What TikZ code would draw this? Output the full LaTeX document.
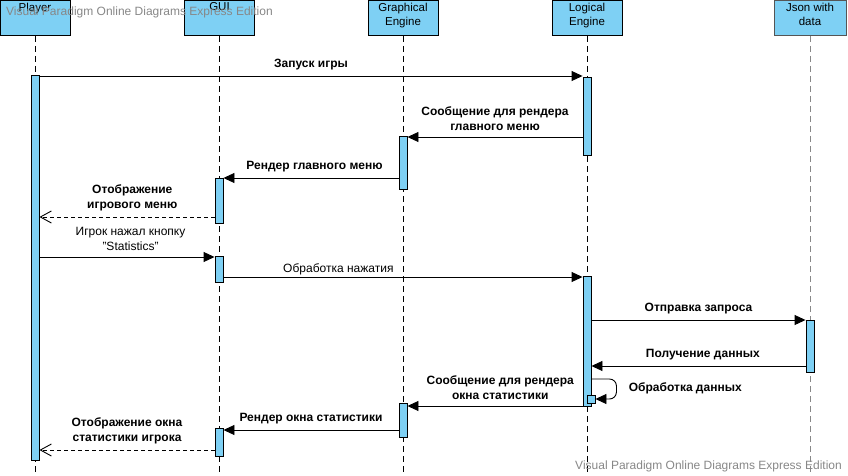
\documentclass[tikz,border=0pt]{standalone}
\usepackage{fontspec}
\setmainfont{Liberation Sans}
\usetikzlibrary{arrows.meta, positioning, calc}
\definecolor{lifeblue}{RGB}{126,208,244}
\definecolor{jsongray}{RGB}{85,85,85}
\definecolor{wmgray}{RGB}{135,135,135}

\begin{document}
\begin{tikzpicture}[
        x=1pt, y=1pt,
        head/.style={rectangle, draw=black, fill=lifeblue, minimum width=70pt, minimum height=35pt, anchor=north, inner sep=0pt, line width=1pt},
        hdlbl/.style={anchor=north, align=center, font=\fontsize{11.5}{14}\selectfont, inner sep=1pt, yshift=-1.5pt},
        life/.style={dash pattern=on 6pt off 4pt, line width=0.9pt},
        act/.style={rectangle, draw=black, fill=lifeblue, minimum width=8pt, anchor=north, inner sep=0pt, line width=0.9pt},
        msg/.style={-{Triangle[length=11pt, width=10pt]}, line width=0.9pt},
        reply/.style={-{Straight Barb[length=11pt, width=12pt]}, dash pattern=on 4pt off 3pt, line width=0.9pt},
        lbl/.style={font=\fontsize{12}{14.5}\selectfont\bfseries, align=center, inner sep=2pt},
        nlbl/.style={font=\fontsize{12}{14.5}\selectfont, align=center, inner sep=2pt},
        wmark/.style={text=wmgray, font=\fontsize{12}{14}\selectfont, inner sep=0pt}
    ]
    \useasboundingbox (0,0) rectangle (848,-476);

    % Lifeline heads
    \node[head, label={[hdlbl]north:Player}] (player) at (35,0) {};
    \node[head, label={[hdlbl]north:GUI}] (gui) at (219.5,0) {};
    \node[head, label={[hdlbl]north:Graphical\\Engine}] (graph) at (403,0) {};
    \node[head, label={[hdlbl]north:Logical\\Engine}] (logic) at (587,0) {};
    \node[head, draw=jsongray, minimum width=72pt, label={[hdlbl]north:Json with\\data}] (json) at (810,0) {};

    % Lifelines
    \coordinate (bottom) at (0,-476);
    \foreach \n in {player, gui, graph, logic}
        \draw[life] (\n.south) -- (\n.south |- bottom);
    \draw[life, draw=jsongray!70] (json.south) -- (json.south |- bottom);

    % Activations
    \node[act, minimum height=385pt] (pa) at (35,-75) {};
    \node[act, minimum height=78pt] (la1) at (587,-77) {};
    \node[act, minimum height=53pt] (ga1) at (403,-136) {};
    \node[act, minimum height=45pt] (ua1) at (219,-178) {};
    \node[act, minimum height=26pt] (ua2) at (219,-256) {};
    \node[act, minimum height=130pt] (la2) at (587,-276) {};
    \node[act, minimum height=52pt] (ja) at (810,-320) {};
    \node[act, minimum height=34pt] (ga2) at (403,-403) {};
    \node[act, minimum height=28pt] (ua3) at (219,-428) {};
    \node[act, minimum height=8pt, anchor=center] (sa) at (591,-399) {};

    % Message rows
    \coordinate (m1) at (0,-76);
    \coordinate (m2) at (0,-137);
    \coordinate (m3) at (0,-178);
    \coordinate (m4) at (0,-217);
    \coordinate (m5) at (0,-257);
    \coordinate (m6) at (0,-277);
    \coordinate (m7) at (0,-320);
    \coordinate (m8) at (0,-366);
    \coordinate (m9) at (0,-379);
    \coordinate (m10) at (0,-406);
    \coordinate (m11) at (0,-430);
    \coordinate (m12) at (0,-450);

    % Messages
    \draw[msg] (pa.east |- m1) -- (la1.west |- m1) node[lbl, midway, above=4pt] {Запуск игры};
    \draw[msg] (la1.west |- m2) -- (ga1.east |- m2) node[lbl, midway, above=4pt] {Сообщение для рендера\\главного меню};
    \draw[msg] (ga1.west |- m3) -- (ua1.east |- m3) node[lbl, pos=0.48, above=4pt] {Рендер главного меню};
    \draw[reply] (ua1.west |- m4) -- (pa.east |- m4) node[lbl, pos=0.47, above=4pt] {Отображение\\игрового меню};
    \draw[msg] (pa.east |- m5) -- (ua2.west |- m5) node[nlbl, pos=0.52, above=4pt] {Игрок нажал кнопку\\"Statistics"};
    \draw[msg] (ua2.east |- m6) -- (la2.west |- m6) node[nlbl, pos=0.32, above=0pt] {Обработка нажатия};
    \draw[msg] (la2.east |- m7) -- (ja.west |- m7) node[lbl, midway, above=4pt] {Отправка запроса};
    \draw[msg] (ja.west |- m8) -- (la2.east |- m8) node[lbl, pos=0.48, above=4pt] {Получение данных};
    \draw[msg, rounded corners=7pt] (la2.east |- m9) -- ++(25,0) node[lbl, anchor=west, xshift=10pt, yshift=-9pt] {Обработка данных} |- (sa.east);
    \draw[msg] (la2.west |- m10) -- (ga2.east |- m10) node[lbl, pos=0.47, above=4pt] {Сообщение для рендера\\окна статистики};
    \draw[msg] (ga2.west |- m11) -- (ua3.east |- m11) node[lbl, midway, above=4pt] {Рендер окна статистики};
    \draw[reply] (ua3.west |- m12) -- (pa.east |- m12) node[lbl, midway, above=4pt] {Отображение окна\\статистики игрока};

    % Watermarks
    \node[wmark, anchor=west] (wmtop) at (6,-12) {Visual Paradigm Online Diagrams Express Edition};
    \node[wmark, anchor=east] (wmbot) at (842,-466) {Visual Paradigm Online Diagrams Express Edition};

    \end{tikzpicture}
\end{document}
